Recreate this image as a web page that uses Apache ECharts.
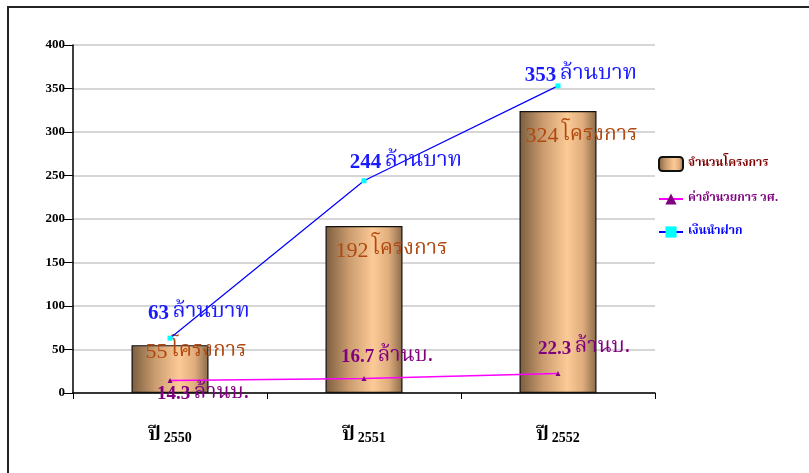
<!DOCTYPE html>
<html>
<head>
<meta charset="utf-8">
<script src="https://cdn.jsdelivr.net/npm/echarts@6/dist/echarts.min.js"></script>
<style>
  html, body { margin: 0; padding: 0; background: #fff; }
  #frame {
    position: absolute; left: 7px; top: 6px; width: 802px; height: 467px;
    border-top: 2px solid #222; border-left: 2px solid #222;
  }
  #chart { position: absolute; left: 0; top: 0; width: 809px; height: 473px; }
</style>
</head>
<body>
<div id="frame"></div>
<div id="chart"></div>
<script>
// ข้อมูล
const years = ['2550', '2551', '2552']
const projectCount = [55, 192, 324]
const adminCost = [14.3, 16.7, 22.3]
const deposit = [63, 244, 353]
const yTicks = [0, 50, 100, 150, 200, 250, 300, 350, 400]

const seriesNames = ['จำนวนโครงการ', 'ค่าอำนวยการ วศ.', 'เงินนำฝาก']

// label tweaks (offsets in px)
const barLabelPos = [[14, 7], [10, 25], [6, 25]]
const blueLabelOff = [[29, -6], [42, 0], [23, 8]]
const pinkLabelOff = [[33, 32], [23, -3], [26, -7]]

const thai = '"Noto Serif Thai", "Noto Sans Thai", "Liberation Serif", serif'
const serif = '"Liberation Serif", serif'

const barGradient = new echarts.graphic.LinearGradient(0, 0, 1, 0, [
  { offset: 0, color: '#7b5d3e' },
  { offset: 0.3, color: '#c99b6e' },
  { offset: 0.62, color: '#fcca96' },
  { offset: 0.82, color: '#e0ae7e' },
  { offset: 1, color: '#8a6a4a' }
])

const chart = echarts.init(document.getElementById('chart'))

const option = {
  animation: false,
  grid: { left: 73, right: 154, top: 45, bottom: 80 },
  legend: {
    orient: 'vertical',
    left: 653,
    top: 151,
    itemGap: 21,
    itemWidth: 24,
    itemHeight: 14,
    data: [
      { name: seriesNames[0], textStyle: { color: '#800000' } },
      { name: seriesNames[1], textStyle: { color: '#800080' } },
      { name: seriesNames[2], textStyle: { color: '#0000ff' } }
    ],
    textStyle: { fontFamily: thai, fontSize: 12, fontWeight: 'bold' }
  },
  xAxis: {
    type: 'category',
    data: years,
    axisLine: { lineStyle: { color: '#000', width: 1.5 } },
    axisTick: { show: true, length: 6, lineStyle: { color: '#000' } },
    axisLabel: {
      margin: 34,
      formatter: (v) => '{a|ปี}{b|' + v + '}',
      rich: {
        a: { fontFamily: thai, fontWeight: 'bold', fontSize: 19, color: '#000' },
        b: { fontFamily: serif, fontWeight: 'bold', fontSize: 14, color: '#000', padding: [4, 0, 0, 3] }
      }
    }
  },
  yAxis: {
    type: 'value',
    min: yTicks[0],
    max: yTicks[yTicks.length - 1],
    interval: yTicks[1] - yTicks[0],
    axisLine: { show: true, lineStyle: { color: '#000', width: 1.5 } },
    axisTick: { show: true, length: 9, lineStyle: { color: '#000' } },
    axisLabel: {
      margin: 8,
      color: '#000',
      fontFamily: serif,
      fontWeight: 'bold',
      fontSize: 13
    },
    splitLine: { lineStyle: { color: '#c8c8c8', width: 1.5 } }
  },
  series: [
    {
      name: seriesNames[0],
      type: 'bar',
      barWidth: 77,
      itemStyle: { color: barGradient, borderColor: '#111', borderWidth: 1.2 },
      data: projectCount.map((v, i) => ({
        value: v,
        label: { position: barLabelPos[i] }
      })),
      label: {
        show: true,
        align: 'left',
        verticalAlign: 'middle',
        formatter: (p) => '{n|' + p.value + '} {t|โครงการ}',
        rich: {
          n: { fontFamily: serif, fontSize: 22, color: '#b0480f' },
          t: { fontFamily: thai, fontSize: 21, color: '#b0480f' }
        }
      },
      z: 1
    },
    {
      name: seriesNames[1],
      type: 'line',
      symbol: 'triangle',
      symbolSize: 5,
      lineStyle: { color: '#ff00ff', width: 1.5 },
      itemStyle: { color: '#800080' },
      data: adminCost.map((v, i) => ({
        value: v,
        label: { offset: pinkLabelOff[i] }
      })),
      label: {
        show: true,
        position: 'top',
        formatter: (p) => '{n|' + p.value + '} {t|ล้านบ.}',
        rich: {
          n: { fontFamily: serif, fontWeight: 'bold', fontSize: 19, color: '#800080' },
          t: { fontFamily: thai, fontSize: 21, color: '#800080' }
        }
      },
      z: 3
    },
    {
      name: seriesNames[2],
      type: 'line',
      symbol: 'rect',
      symbolSize: 5,
      lineStyle: { color: '#0000ff', width: 1.2 },
      itemStyle: { color: '#00ffff' },
      data: deposit.map((v, i) => ({
        value: v,
        label: { offset: blueLabelOff[i] }
      })),
      label: {
        show: true,
        position: 'top',
        formatter: (p) => '{n|' + p.value + '} {t|ล้านบาท}',
        rich: {
          n: { fontFamily: serif, fontWeight: 'bold', fontSize: 21, color: '#1a1aff' },
          t: { fontFamily: thai, fontSize: 22, color: '#1a1aff' }
        }
      },
      z: 4
    }
  ]
}

chart.setOption(option)
</script>
</body>
</html>
